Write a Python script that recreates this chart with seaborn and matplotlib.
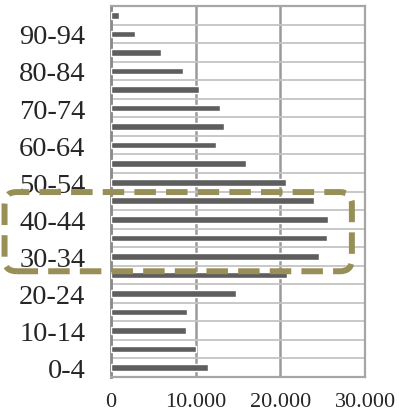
import matplotlib
matplotlib.use("Agg")
import matplotlib.pyplot as plt
from matplotlib.patches import FancyBboxPatch
from matplotlib.transforms import IdentityTransform
from matplotlib.ticker import FuncFormatter, MultipleLocator
import seaborn as sns
import pandas as pd

# Population by five-year age group
age_groups = ["0-4", "5-9", "10-14", "15-19", "20-24", "25-29", "30-34", "35-39",
              "40-44", "45-49", "50-54", "55-59", "60-64", "65-69", "70-74",
              "75-79", "80-84", "85-89", "90-94", "95-99"]
population = [11430, 10100, 8880, 9000, 14730, 20730, 24570, 25470, 25550, 23980,
              20610, 15940, 12370, 13390, 12840, 10380, 8490, 5940, 2850, 1000]
x_ticks = [0, 10000, 20000, 30000]
highlight = ("30-34", "45-49")

df = pd.DataFrame({"age": age_groups, "pop": population})

sns.set_style("white")
plt.rcParams["font.family"] = ["Liberation Serif", "DejaVu Serif"]

fig = plt.figure(figsize=(3.99, 4.14), dpi=100)
ax = fig.add_axes([0.277, 0.087, 0.639, 0.896])

order = age_groups[::-1]  # youngest at the bottom
sns.barplot(data=df, x="pop", y="age", order=order, orient="h",
            color="#5e5e5e", saturation=1, width=0.36, ax=ax, zorder=3)

ax.set_xlim(0, 30000)
ax.set_ylim(len(order) - 0.5, -0.5)
ax.set_xticks(x_ticks)
ax.xaxis.set_major_formatter(FuncFormatter(lambda v, p: f"{int(v):,}".replace(",", ".")))
ax.set_yticks(range(len(order)))
ax.set_yticklabels([lab if age_groups.index(lab) % 2 == 0 else "" for lab in order])
ax.set_xlabel("")
ax.set_ylabel("")

# grid: light horizontal lines every half category, darker verticals at major ticks
ax.yaxis.set_minor_locator(MultipleLocator(0.5))
ax.grid(axis="y", which="minor", color="#c4c4c4", linewidth=1.3, zorder=1)
ax.grid(axis="x", which="major", color="#9a9a9a", linewidth=1.8, zorder=1)
ax.set_axisbelow(True)

ax.tick_params(axis="both", which="both", length=0)
ax.tick_params(axis="y", labelsize=20.5, pad=18)
ax.tick_params(axis="x", labelsize=16, pad=11)

for side, sp in ax.spines.items():
    sp.set_visible(True)
    sp.set_color("#a6a6a6")
    sp.set_linewidth(1.6)
ax.spines["left"].set_color("#8a8a8a")
ax.spines["left"].set_linewidth(2.0)

# dashed rounded frame around the highlighted age band
fig.canvas.draw()
top_y = order.index(highlight[1]) - 0.47
bot_y = order.index(highlight[0]) + 0.8
(x0, y0) = ax.transData.transform((-12470, bot_y))
(x1, y1) = ax.transData.transform((28400, top_y))
frame = FancyBboxPatch((x0, y0), x1 - x0, y1 - y0,
                       boxstyle="round,pad=0,rounding_size=12",
                       transform=IdentityTransform(), fill=False,
                       edgecolor="#988f57", linewidth=4.3,
                       linestyle=(0, (3.6, 1.7)), capstyle="butt",
                       clip_on=False, zorder=10)
fig.add_artist(frame)

fig.savefig("out.png", dpi=100)
